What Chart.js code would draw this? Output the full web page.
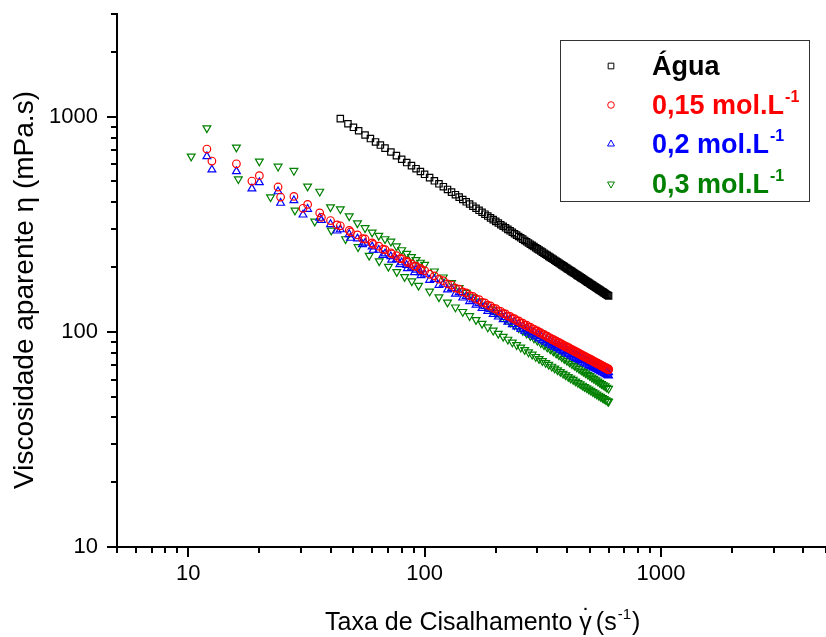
<!doctype html>
<html lang="pt">
<head>
<meta charset="utf-8">
<style>
  html, body { margin: 0; padding: 0; background: #fff; overflow: hidden; }
  #wrap { width: 832px; height: 637px; }
</style>
</head>
<body>
<div id="wrap"><canvas id="chart" width="832" height="637"></canvas></div>
<script src="https://cdn.jsdelivr.net/npm/chart.js"></script>
<script>
  // data (shear rate s^-1, viscosity mPa.s)
  const waterX = [44, 47.4, 50, 52.6, 56, 59, 62, 65, 68, 72, 76, 80, 84, 88, 92, 96,
    100, 105, 110, 115, 120, 125, 130, 135, 140, 145, 150, 155, 160, 165, 170, 175, 180, 185, 190, 195,
    200, 205, 210, 215, 220, 225, 230, 235, 240, 245, 250, 255, 260, 265, 270, 275, 280, 285, 290, 295,
    300, 305, 310, 315, 320, 325, 330, 335, 340, 345, 350, 355, 360, 365, 370, 375, 380, 385, 390, 395,
    400, 405, 410, 415, 420, 425, 430, 435, 440, 445, 450, 455, 460, 465, 470, 475, 480, 485, 490, 495,
    500, 505, 510, 515, 520, 525, 530, 535, 540, 545, 550, 555, 560, 565, 570, 575, 580, 585, 590, 595, 600]
  const waterY = [979, 927, 892, 860, 822, 791, 763, 738, 714, 685, 659, 634, 612, 592, 573, 556,
    539.5, 520.7, 503.4, 487.4, 472.6, 458.9, 446.0, 434.0, 422.6, 412.0, 402.0, 392.6, 383.6, 375.2, 367.1, 359.5, 352.2, 345.1, 338.5, 332.2,
    326.2, 320.3, 314.8, 309.5, 304.4, 299.4, 294.7, 290.1, 285.8, 281.4, 277.4, 273.5, 269.6, 266.0, 262.4, 258.9, 255.5, 252.3, 249.1, 246.0,
    243.0, 240.2, 237.3, 234.6, 232.0, 229.4, 226.8, 224.3, 221.9, 219.6, 217.3, 215.1, 212.9, 210.8, 208.7, 206.7, 204.7, 202.8, 200.9, 199.1,
    197.2, 195.5, 193.7, 192.0, 190.4, 188.7, 187.1, 185.5, 184.0, 182.5, 181.1, 179.6, 178.2, 176.8, 175.4, 174.1, 172.8, 171.5, 170.2, 169.0,
    167.7, 166.5, 165.3, 164.1, 163.0, 161.9, 160.8, 159.7, 158.6, 157.5, 156.5, 155.5, 154.5, 153.5, 152.5, 151.5, 150.6, 149.6, 148.7, 147.8, 146.9]

  // first sweep, shared shear rates
  const sweepAX = [12, 16, 20, 24, 28, 32, 36, 40, 44, 48, 52, 56, 60, 64, 68, 72, 76, 80, 84, 88, 92, 96,
    100, 110, 120, 130, 140, 150, 160, 170, 180, 190, 200, 210, 220, 230, 240, 250, 260, 270, 280, 290,
    300, 310, 320, 330, 340, 350, 360, 370, 380, 390, 400, 410, 420, 430, 440, 450, 460, 470, 480, 490,
    500, 510, 520, 530, 540, 550, 560, 570, 580, 590, 600]
  const red015A = [707, 604, 532, 471, 426, 391, 357, 329, 311, 296, 282, 270, 259, 250, 241, 233, 226, 219, 213, 207, 202, 197,
    192.4, 182.0, 172.9, 165.0, 157.9, 151.7, 146.1, 141.0, 136.3, 132.0, 128.1, 124.6, 121.1, 118.0, 115.1, 112.4, 109.8, 107.4, 105.2, 103.0,
    101.0, 99.0, 97.2, 95.4, 93.8, 92.2, 90.7, 89.3, 87.9, 86.6, 85.3, 84.1, 82.9, 81.7, 80.7, 79.7, 78.6, 77.6, 76.6, 75.7,
    74.8, 74.0, 73.1, 72.3, 71.5, 70.8, 70.0, 69.3, 68.6, 67.9, 67.2]
  const blue02A = [654, 557, 495, 449, 408, 372, 338, 316, 299, 284, 271, 259, 249, 240, 231, 224, 217, 210, 204, 199, 194, 189,
    185.7, 175.6, 166.8, 159.2, 152.4, 146.4, 141.0, 136.1, 131.5, 127.4, 123.6, 120.2, 116.9, 113.9, 111.1, 108.5, 106.0, 103.6, 101.5, 99.4,
    97.5, 95.5, 93.8, 92.1, 90.5, 89.0, 87.5, 86.2, 84.8, 83.6, 82.3, 81.2, 80.0, 78.8, 77.9, 76.9, 75.8, 74.9, 73.9, 73.1,
    72.2, 71.4, 70.5, 69.8, 69.0, 68.3, 67.6, 66.9, 66.2, 65.5, 64.8]
  const green03A = [885, 720, 620, 587, 561, 474, 449, 380, 372, 345, 320, 304, 290, 280, 270, 263, 250, 240, 231, 223, 216, 210,
    205.2, 191.2, 179.3, 169.0, 160.0, 152.0, 144.9, 138.5, 132.8, 127.6, 122.8, 118.5, 114.5, 110.8, 107.4, 104.2, 101.2, 98.4, 95.8, 93.3,
    91.0, 88.8, 86.8, 84.8, 83.0, 81.2, 79.5, 77.9, 76.4, 74.9, 73.5, 72.2, 70.9, 69.7, 68.5, 67.4, 66.3, 65.3, 64.3, 63.3,
    62.4, 61.4, 60.6, 59.7, 58.9, 58.1, 57.3, 56.6, 55.9, 55.1, 54.5]

  // second sweep
  const sweepBX = [12.6, 18.6, 24.6, 30.6, 36.6, 42.6, 48.6, 54.6, 60.6, 66.6, 72.6, 78.6, 84.6, 90.6, 96.6,
    105, 115, 125, 135, 145, 155, 165, 175, 185, 195, 205, 215, 225, 235, 245, 255, 265, 275, 285, 295,
    305, 315, 325, 335, 345, 355, 365, 375, 385, 395, 405, 415, 425, 435, 445, 455, 465, 475, 485, 495,
    505, 515, 525, 535, 545, 555, 565, 575, 585, 595, 600]
  const red015B = [622, 502, 423, 375, 340, 314, 291, 271, 255, 242, 230, 219, 210, 202, 194,
    185.2, 175.6, 167.1, 159.8, 153.3, 147.3, 142.1, 137.2, 132.9, 128.7, 125.0, 121.7, 118.4, 115.4, 112.6, 110.0, 107.5, 105.2, 103.0, 101.0,
    99.0, 97.2, 95.4, 93.8, 92.1, 90.6, 89.1, 87.7, 86.3, 85.0, 83.9, 82.6, 81.5, 80.4, 79.3, 78.3, 77.3, 76.3, 75.4, 74.4,
    73.7, 72.8, 72.0, 71.2, 70.5, 69.7, 68.9, 68.2, 67.5, 66.9, 66.5]
  const blue02B = [567, 463, 397, 350, 330, 295, 273, 255, 240, 227, 216, 206, 197, 189, 183,
    174.0, 165.0, 157.0, 150.1, 144.0, 138.4, 133.5, 128.9, 124.8, 120.9, 117.5, 114.3, 111.2, 108.4, 105.7, 103.3, 101.0, 98.9, 96.7, 94.9,
    93.0, 91.3, 89.7, 88.1, 86.5, 85.1, 83.7, 82.4, 81.1, 79.9, 78.8, 77.6, 76.5, 75.5, 74.5, 73.6, 72.6, 71.7, 70.9, 69.9,
    69.2, 68.4, 67.6, 66.9, 66.2, 65.5, 64.7, 64.1, 63.4, 62.9, 62.5]
  const green03BX = [10.3, 16.3, 22.3, 28.3, 34.3, 40.3, 46.3, 52.3, 58.3, 64.3, 70.3, 76.3, 82.3, 88.3, 94.3,
    105, 115, 125, 135, 145, 155, 165, 175, 185, 195, 205, 215, 225, 235, 245, 255, 265, 275, 285, 295,
    305, 315, 325, 335, 345, 355, 365, 375, 385, 395, 405, 415, 425, 435, 445, 455, 465, 475, 485, 495,
    505, 515, 525, 535, 545, 555, 565, 575, 585, 595, 600]
  const green03B = [654, 513, 423, 367, 326, 296, 270, 248, 226, 213, 201, 190, 180, 172, 164,
    154.3, 145.0, 137.1, 130.1, 124.0, 118.5, 113.6, 109.2, 105.1, 101.5, 98.1, 95.0, 92.1, 89.4, 86.9, 84.6, 82.4, 80.4, 78.5, 76.6,
    74.9, 73.3, 71.8, 70.4, 69.0, 67.6, 66.4, 65.2, 64.0, 62.9, 61.8, 60.8, 59.9, 58.9, 58.0, 57.2, 56.3, 55.5, 54.8, 54.0,
    53.3, 52.6, 51.9, 51.2, 50.6, 50.0, 49.4, 48.8, 48.2, 47.7, 47.4]

  const xTickLabels = [10, 100, 1000]
  const yTickLabels = [10, 100, 1000]
  const legendLabels = ['Água', '0,15 mol.L', '0,2 mol.L', '0,3 mol.L']
  const legendSup = ['', '-1', '-1', '-1']
  const yTitle = 'Viscosidade aparente η (mPa.s)'
  const xTitle = 'Taxa de Cisalhamento '

  const FONT = '"Liberation Sans", Arial, Helvetica, sans-serif'
  const colors = ['#000000', '#ff0000', '#0000ff', '#008000']
  const styles = ['rect', 'circle', 'triangle', 'triangle']
  const rotations = [0, 0, 0, 180]
  const radii = [4.5, 3.8, 4.5, 4.5]

  function pts(xs, ys) {
    return xs.map((x, i) => ({ x: x, y: ys[i] }))
  }

  function logTicks(lo, hi) {
    const out = []
    for (let d = 1; d <= 1000; d *= 10) {
      for (let m = 1; m <= 9; m++) {
        const v = m * d
        if (v >= lo && v <= hi) out.push(v)
      }
    }
    return out
  }

  function isMajor(v) {
    const l = Math.log10(v)
    return Math.abs(l - Math.round(l)) < 1e-9
  }

  function marker(ctx, style, rot, x, y, r) {
    ctx.beginPath()
    if (style === 'rect') {
      const s = Math.SQRT1_2 * r
      ctx.rect(x - s, y - s, 2 * s, 2 * s)
    } else if (style === 'circle') {
      ctx.arc(x, y, r, 0, Math.PI * 2)
    } else {
      const dir = rot ? 1 : -1
      ctx.moveTo(x, y + dir * r)
      ctx.lineTo(x - r * 0.866, y - dir * r * 0.5)
      ctx.lineTo(x + r * 0.866, y - dir * r * 0.5)
      ctx.closePath()
    }
    ctx.stroke()
  }

  const decorations = {
    id: 'decorations',
    afterDraw(chart) {
      const ctx = chart.ctx
      const xs = chart.scales.x, ys = chart.scales.y
      ctx.save()
      // tick marks, major longer than minor
      ctx.strokeStyle = '#000'
      ctx.lineWidth = 2
      xs.ticks.forEach(t => {
        const px = Math.round(xs.getPixelForValue(t.value))
        const len = isMajor(t.value) ? 10 : 6
        ctx.beginPath(); ctx.moveTo(px, xs.top); ctx.lineTo(px, xs.top + len); ctx.stroke()
      })
      ys.ticks.forEach(t => {
        const py = Math.round(ys.getPixelForValue(t.value))
        const len = isMajor(t.value) ? 10 : 6
        ctx.beginPath(); ctx.moveTo(ys.right, py); ctx.lineTo(ys.right - len, py); ctx.stroke()
      })

      // y title
      ctx.fillStyle = '#000'
      ctx.font = '28px ' + FONT
      ctx.save()
      ctx.translate(33, 290)
      ctx.rotate(-Math.PI / 2)
      ctx.textAlign = 'center'
      ctx.textBaseline = 'alphabetic'
      ctx.fillText(yTitle, 0, 0)
      ctx.restore()

      // x title with gamma-dot and superscript
      ctx.textAlign = 'left'
      ctx.textBaseline = 'alphabetic'
      ctx.font = '25px ' + FONT
      let x = 325
      const by = 630
      ctx.fillText(xTitle, x, by)
      x += ctx.measureText(xTitle).width
      const gw = ctx.measureText('γ').width
      ctx.fillText('γ', x, by)
      ctx.textAlign = 'center'
      ctx.fillText('˙', x + gw / 2 + 1, by - 3)
      ctx.textAlign = 'left'
      x += gw + 4
      ctx.fillText('(s', x, by)
      x += ctx.measureText('(s').width
      ctx.font = '15px ' + FONT
      ctx.fillText('-1', x + 1, by - 11)
      x += ctx.measureText('-1').width + 2
      ctx.font = '25px ' + FONT
      ctx.fillText(')', x, by)

      // legend box
      ctx.strokeStyle = '#333'
      ctx.lineWidth = 1
      ctx.strokeRect(560.5, 40.5, 249, 161)
      const rows = [75, 114, 153, 193]
      const mr = [4, 3.3, 4, 4]
      rows.forEach((ry, i) => {
        ctx.strokeStyle = colors[i]
        ctx.lineWidth = 1
        marker(ctx, styles[i], rotations[i], 611, ry - 9, mr[i])
        ctx.fillStyle = colors[i]
        ctx.font = 'bold 27px ' + FONT
        ctx.fillText(legendLabels[i], 652, ry)
        if (legendSup[i]) {
          const w = ctx.measureText(legendLabels[i]).width
          ctx.font = 'bold 16px ' + FONT
          ctx.fillText(legendSup[i], 652 + w + 1, ry - 12)
        }
      })
      ctx.restore()
    }
  }

  const base = { backgroundColor: 'transparent', borderWidth: 1.2, showLine: false, pointHoverRadius: 0 }
  const data = {
    datasets: [
      Object.assign({ label: legendLabels[0], data: pts(waterX, waterY), borderColor: colors[0], pointStyle: 'rect', pointRadius: radii[0] }, base),
      Object.assign({ label: legendLabels[1], data: pts(sweepAX, red015A).concat(pts(sweepBX, red015B)), borderColor: colors[1], pointStyle: 'circle', pointRadius: radii[1] }, base),
      Object.assign({ label: legendLabels[2], data: pts(sweepAX, blue02A).concat(pts(sweepBX, blue02B)), borderColor: colors[2], pointStyle: 'triangle', pointRadius: radii[2] }, base),
      Object.assign({ label: legendLabels[3], data: pts(sweepAX, green03A).concat(pts(green03BX, green03B)), borderColor: colors[3], pointStyle: 'triangle', pointRotation: 180, pointRadius: radii[3] }, base)
    ]
  }

  const tickFont = { family: FONT, size: 22 }
  const config = {
    type: 'scatter',
    data,
    options: {
      responsive: false,
      animation: false,
      layout: { padding: { top: 14, left: 0, right: 0, bottom: 0 } },
      plugins: { legend: { display: false }, tooltip: { enabled: false } },
      scales: {
        x: {
          type: 'logarithmic', position: 'bottom', min: 5, max: 5000, bounds: 'data',
          grid: { drawOnChartArea: false, drawTicks: false },
          border: { display: true, color: '#000', width: 2 },
          ticks: {
            autoSkip: false, maxRotation: 0, padding: 14, color: '#000', font: tickFont,
            callback: v => xTickLabels.includes(Number(v)) ? String(v) : ''
          },
          afterBuildTicks: s => { s.ticks = logTicks(5, 5000).map(v => ({ value: v })) },
          afterFit: s => { s.height = 90; s.paddingLeft = 0; s.paddingRight = 0 }
        },
        y: {
          type: 'logarithmic', position: 'left', min: 10, max: 3000, bounds: 'data',
          grid: { drawOnChartArea: false, drawTicks: false },
          border: { display: true, color: '#000', width: 2 },
          ticks: {
            autoSkip: false, padding: 19, color: '#000', font: tickFont,
            callback: v => yTickLabels.includes(Number(v)) ? String(v) : ''
          },
          afterBuildTicks: s => { s.ticks = logTicks(10, 3000).map(v => ({ value: v })) },
          afterFit: s => { s.width = 117; s.paddingTop = 0; s.paddingBottom = 0 }
        }
      }
    },
    plugins: [decorations]
  }

  const myChart = new Chart(document.getElementById('chart'), config)
</script>
</body>
</html>
